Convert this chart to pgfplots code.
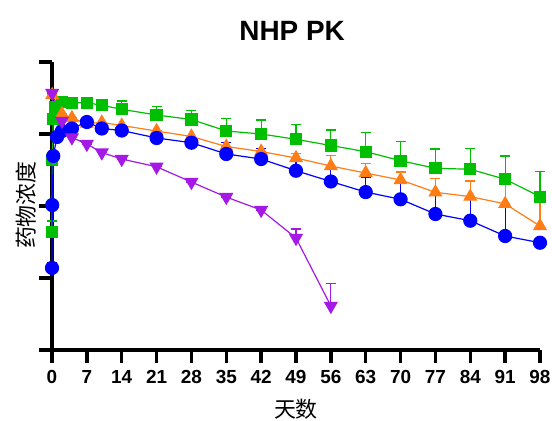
\documentclass[border=0pt]{standalone}
\usepackage{pgfplots}
\usepackage{pgfplotstable}
\pgfplotsset{compat=1.18}
\usepackage{fontspec}
\setmainfont{Liberation Sans}
\newfontfamily\cjk{Noto Sans CJK SC}

\definecolor{cblue}{RGB}{0,0,255}
\definecolor{cgreen}{RGB}{0,190,0}
\definecolor{corange}{RGB}{255,125,20}
\definecolor{cpurple}{RGB}{165,25,230}

% t = day, c = concentration, e = upper error
\pgfplotstableread{
t c e
0 13.8 2.4
0.04 103 0
0.25 495 0
1 909 0
2 1101 0
4 1192 0
7 1468 0
10 1192 0
14 1118 0
21 880 0
28 757 0
35 528 239
42 449 184
49 309 151
56 219 121
63 156 91
70 124 94
77 77.4 64.6
84 62.5 65.5
91 38.3 56.4
98 30.9 0
}\blueData

\pgfplotstableread{
t c e
0 43.5 18.4
0.04 435 0
0.25 1616 0
0.6 2371 0
2 2810 0
4 2722 0
7 2722 0
10 2504 0
14 2203 669
21 1836 574
28 1590 517
35 1101 551
42 1000 565
49 844 520
56 692 444
63 568 475
70 426 356
77 334 285
84 324 309
91 235 260
98 135 165
}\greenData

\pgfplotstableread{
t c e
0.04 3483 0
2 1896 0
4 1668 0
7 1399 0
10 1445 0
14 1312 0
21 1101 0
28 923 0
35 670 0
42 571 0
49 464 76
56 359 144
63 287 105
70 230 67
77 155 87
84 135 87
91 107 123
98 52.7 82
}\orangeData

\pgfplotstableread{
t c e
0.04 3710 0
2 1517 0
4 894 0
7 727 0
10 553 0
14 449 0
21 351 0
28 215 0
35 133 0
42 88 0
49 35.9 12
56 4.09 4.2
}\purpleData

\begin{document}
\begin{tikzpicture}
\path[use as bounding box] (0,0) rectangle (552bp,421bp);
\begin{axis}[
  at={(52bp,71bp)}, anchor=south west,
  scale only axis, width=488bp, height=288bp,
  xmin=0, xmax=98,
  ymode=log, ymin=1, ymax=10000,
  axis x line=bottom, axis y line=left,
  axis line style={line width=3.5bp, -},
  tick align=outside, major tick length=13bp,
  tick style={line width=3.5bp, black},
  xtick={0,7,...,98},
  ytick={1,10,100,1000,10000}, yticklabels={},
  yminorticks=false, xminorticks=false,
  ticklabel style={font=\bfseries\fontsize{19}{19}\selectfont},
  /pgf/number format/assume math mode=true,
  xticklabel style={yshift=-4bp},
  clip=false,
  title={NHP PK},
  title style={at={(0.492,1.087)}, anchor=center, font=\bfseries\fontsize{28}{28}\selectfont},
  xlabel={\cjk 天数},
  xlabel style={at={(0.5,-0.205)}, anchor=center, font=\fontsize{22}{22}\selectfont},
  ylabel={\cjk 药物浓度},
  ylabel style={at={(-0.053,0.503)}, anchor=center, font=\fontsize{22}{22}\selectfont},
  every axis plot/.append style={line width=1.2bp},
  error bars/error bar style={line width=1.2bp},
  error bars/error mark options={rotate=90, line width=1.2bp, mark size=5bp},
]
\addplot[color=cgreen, mark=square*, mark size=5.5bp,
  error bars/.cd, y dir=plus, y explicit]
  table[x=t, y=c, y error=e] {\greenData};
\addplot[color=corange, mark=triangle*, mark size=7bp,
  error bars/.cd, y dir=plus, y explicit]
  table[x=t, y=c, y error=e] {\orangeData};
\addplot[color=cblue, mark=*, mark size=6.5bp,
  error bars/.cd, y dir=plus, y explicit]
  table[x=t, y=c, y error=e] {\blueData};
\addplot[color=cpurple, mark=triangle*, mark size=7bp,
  mark options={rotate=180},
  error bars/.cd, y dir=plus, y explicit]
  table[x=t, y=c, y error=e] {\purpleData};
\end{axis}
\end{tikzpicture}
\end{document}
